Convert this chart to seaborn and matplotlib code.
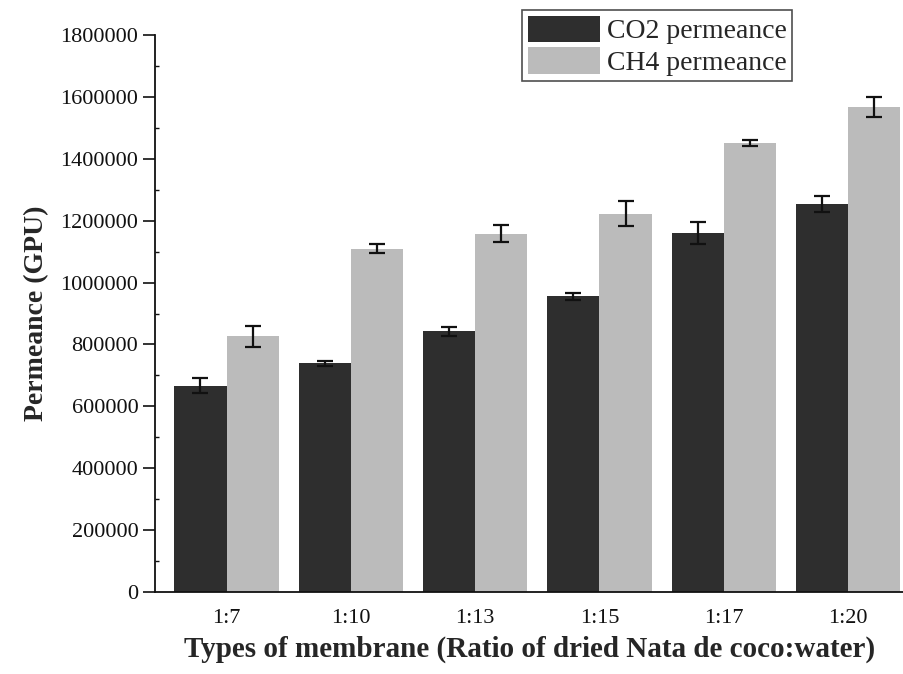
import matplotlib
matplotlib.use("Agg")
import matplotlib.pyplot as plt
import seaborn as sns
import pandas as pd
import numpy as np
from matplotlib.ticker import MultipleLocator, FuncFormatter

categories = ["1:7", "1:10", "1:13", "1:15", "1:17", "1:20"]
co2_values = [667000, 739000, 842000, 955000, 1161000, 1255000]
ch4_values = [826000, 1110000, 1158000, 1223000, 1452000, 1568000]
co2_err = [24000, 8000, 16000, 10000, 36000, 26000]
ch4_err = [34000, 15000, 27000, 40000, 10000, 32000]
series_names = ["CO2 permeance", "CH4 permeance"]

sns.set_theme(style="white")
plt.rcParams["font.family"] = ["Liberation Serif", "DejaVu Serif"]

df = pd.DataFrame({
    "ratio": categories * 2,
    "value": co2_values + ch4_values,
    "gas": [series_names[0]] * len(categories) + [series_names[1]] * len(categories),
})

fig = plt.figure(figsize=(9.04, 6.74), dpi=100)
ax = fig.add_axes([0.1715, 0.1217, 0.8285, 0.8263])

sns.barplot(data=df, x="ratio", y="value", hue="gas", order=categories,
            hue_order=series_names, palette=["#2e2e2e", "#bbbbbb"],
            errorbar=None, width=0.84, saturation=1, ax=ax, legend=True,
            linewidth=0)

# error bars at bar centers
errs = co2_err + ch4_err
vals = co2_values + ch4_values
bars = [p for p in ax.patches if p.get_height() > 0][:len(vals)]
for p, v, e in zip(bars, vals, errs):
    xc = p.get_x() + p.get_width() / 2
    ax.errorbar(xc, v, yerr=e, fmt="none", ecolor="#111111", elinewidth=1.6,
                capsize=6, capthick=1.6)

ax.set_ylim(0, 1800000)
ax.set_xlim(-0.575, 5.45)
ax.yaxis.set_major_locator(MultipleLocator(200000))
ax.yaxis.set_minor_locator(MultipleLocator(100000))
ax.yaxis.set_major_formatter(FuncFormatter(lambda v, p: f"{int(v)}"))

for s in ["top", "right"]:
    ax.spines[s].set_visible(False)
for s in ["left", "bottom"]:
    ax.spines[s].set_color("#111111")
    ax.spines[s].set_linewidth(1.3)

ax.tick_params(axis="y", which="major", left=True, direction="out", length=9,
               width=1.2, labelsize=16, colors="#111111", pad=3)
ax.tick_params(axis="y", which="minor", left=True, direction="in", length=3,
               width=1.0, colors="#111111")
ax.tick_params(axis="x", bottom=False, labelsize=16, colors="#111111", pad=6)

ax.set_ylabel("Permeance (GPU)", fontsize=20, fontweight="bold", labelpad=8)
ax.set_xlabel("Types of membrane (Ratio of dried Nata de coco:water)",
              fontsize=21, fontweight="bold", labelpad=6)

leg = ax.legend(loc="upper right", bbox_to_anchor=(0.851, 1.045), fontsize=20,
                frameon=True, fancybox=False, edgecolor="#222222",
                handlelength=2.6, handleheight=1.1, handletextpad=0.25,
                borderpad=0.2, labelspacing=0.1, borderaxespad=0)
leg.get_frame().set_linewidth(1.2)

fig.savefig("out.png", dpi=100)
